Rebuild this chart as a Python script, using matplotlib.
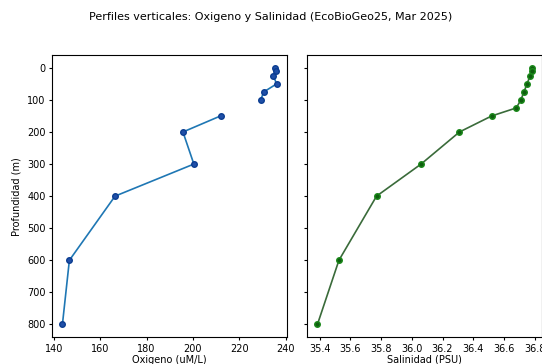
import numpy as np
import matplotlib
matplotlib.use('Agg')
import matplotlib.pyplot as plt

# Profundidades de muestreo (m)
depth = [0, 10, 25, 50, 75, 100, 125, 150, 200, 300, 400, 600, 800]
# Oxigeno disuelto (uM/L), sin dato a 125 m
oxygen = [235.4, 235.7, 234.7, 236.1, 230.6, 229.2, np.nan, 211.9, 195.7, 200.4, 166.4, 146.7, 143.7]
# Salinidad (PSU)
salinity = [36.78, 36.78, 36.77, 36.75, 36.73, 36.71, 36.68, 36.52, 36.31, 36.06, 35.77, 35.525, 35.385]

fig = plt.figure(figsize=(5.42, 3.64), dpi=100)
ax1 = fig.add_axes([0.0954, 0.0734, 0.4347, 0.7755])
ax2 = fig.add_axes([0.5659, 0.0734, 0.4347, 0.7755], sharey=ax1)

ax1.plot(oxygen, depth, '-o', color='tab:blue', markersize=4, linewidth=1.2,
         markeredgecolor='#0b3d91', markerfacecolor='#1f4fa8')
ax2.plot(salinity, depth, '-o', color='#3a6b3a', markersize=4, linewidth=1.2,
         markeredgecolor='#1b8a1b', markerfacecolor='#0f5f0f')

ax1.invert_yaxis()
ax1.set_xlabel('Oxigeno (uM/L)', fontsize=7, labelpad=1)
ax1.set_ylabel('Profundidad (m)', fontsize=7)
ax2.set_xlabel('Salinidad (PSU)', fontsize=7, labelpad=1)
ax2.set_xticks([35.4, 35.6, 35.8, 36.0, 36.2, 36.4, 36.6, 36.8])

for ax in (ax1, ax2):
    ax.tick_params(labelsize=7, length=2.5, pad=2)
ax2.tick_params(labelleft=False)

fig.text(0.5, 0.953, 'Perfiles verticales: Oxigeno y Salinidad (EcoBioGeo25, Mar 2025)',
         ha='center', va='center', fontsize=8)

plt.savefig('out.png', dpi=100)
